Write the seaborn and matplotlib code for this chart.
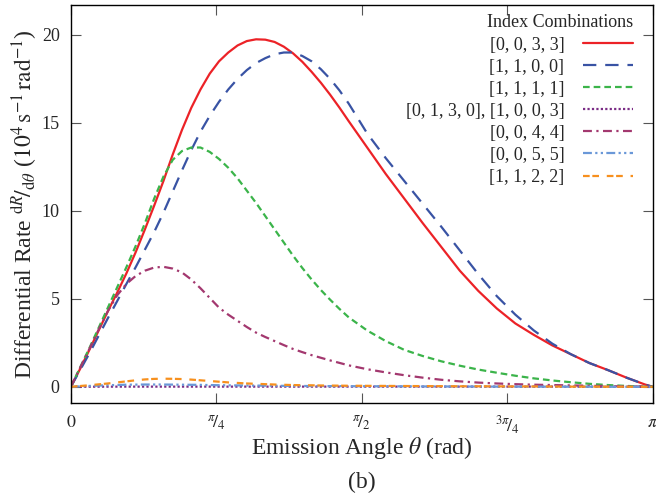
import numpy as np
import pandas as pd
import matplotlib
matplotlib.use("Agg")
import matplotlib.pyplot as plt
import seaborn as sns

theta = ([0.0, 0.05, 0.1, 0.15, 0.2, 0.25, 0.3, 0.35, 0.4, 0.45, 0.5, 0.55, 0.6, 0.65, 0.7,
          0.75, 0.8, 0.85, 0.9, 0.95, 1.0, 1.05, 1.1, 1.15, 1.2, 1.25, 1.3, 1.35, 1.4, 1.45, 1.5]
         + [1.6, 1.7, 1.8, 1.9, 2.0, 2.1, 2.2, 2.3, 2.4, 2.5, 2.6, 2.7, 2.8, 2.9, 3.0, 3.1, 3.14159])

rate_0033 = ([0.0, 1.02, 2.1, 3.2, 4.3, 5.35, 6.45, 7.65, 8.95, 10.3, 11.7, 13.2, 14.6, 15.85,
              16.9, 17.8, 18.5, 19.0, 19.4, 19.65, 19.75, 19.73, 19.6, 19.33, 18.95, 18.47,
              17.9, 17.28, 16.6, 15.87, 15.1]
             + [13.6, 12.1, 10.7, 9.3, 7.95, 6.6, 5.45, 4.45, 3.6, 2.95, 2.35, 1.85, 1.35,
                0.95, 0.52, 0.13, 0.0])
rate_1100 = ([0.0, 0.95, 1.9, 2.9, 3.9, 4.87, 5.85, 6.8, 7.8, 8.8, 9.9, 11.1, 12.3, 13.45,
              14.5, 15.4, 16.2, 16.9, 17.5, 18.0, 18.4, 18.68, 18.9, 19.0, 19.0, 18.8, 18.5,
              18.05, 17.5, 16.85, 16.1]
             + [14.4, 13.0, 11.7, 10.4, 9.1, 7.75, 6.4, 5.15, 4.1, 3.2, 2.45, 1.85, 1.35,
                0.95, 0.52, 0.13, 0.0])
rate_1111 = ([0.0, 1.1, 2.2, 3.35, 4.5, 5.65, 6.8, 8.0, 9.3, 10.7, 11.95, 12.9, 13.4, 13.6,
              13.6, 13.35, 12.95, 12.45, 11.85, 11.15, 10.45, 9.7, 8.95, 8.2, 7.45, 6.75,
              6.1, 5.5, 4.95, 4.43, 3.95]
             + [3.2, 2.6, 2.1, 1.75, 1.45, 1.2, 0.98, 0.8, 0.63, 0.48, 0.36, 0.26, 0.17,
                0.1, 0.05, 0.01, 0.0])
rate_0130 = ([0.0, 0.003, 0.005, 0.007, 0.008, 0.009, 0.01, 0.01, 0.01, 0.01, 0.01, 0.01,
              0.01, 0.01, 0.01, 0.01, 0.01, 0.01, 0.01, 0.01, 0.01, 0.01, 0.01, 0.01, 0.01,
              0.01, 0.01, 0.01, 0.01, 0.01, 0.01]
             + [0.01, 0.01, 0.01, 0.01, 0.01, 0.01, 0.01, 0.01, 0.01, 0.01, 0.01, 0.008,
                0.006, 0.004, 0.003, 0.002, 0.0])
rate_0044 = ([0.0, 1.08, 2.15, 3.25, 4.3, 5.2, 5.85, 6.3, 6.6, 6.78, 6.82, 6.72, 6.5, 6.1,
              5.6, 5.05, 4.5, 4.1, 3.75, 3.4, 3.08, 2.83, 2.6, 2.37, 2.15, 1.97, 1.8, 1.65,
              1.5, 1.36, 1.22]
             + [1.0, 0.82, 0.66, 0.52, 0.40, 0.31, 0.24, 0.19, 0.15, 0.12, 0.1, 0.08, 0.06,
                0.04, 0.02, 0.01, 0.0])
rate_0055 = ([0.0, 0.025, 0.05, 0.07, 0.09, 0.105, 0.12, 0.125, 0.13, 0.13, 0.13, 0.125,
              0.12, 0.115, 0.11, 0.1, 0.09, 0.085, 0.08, 0.075, 0.07, 0.065, 0.06, 0.055,
              0.05, 0.048, 0.045, 0.042, 0.04, 0.038, 0.035]
             + [0.03, 0.03, 0.025, 0.02, 0.02, 0.015, 0.015, 0.01, 0.01, 0.01, 0.005, 0.005,
                0.005, 0.0, 0.0, 0.0, 0.0])
rate_1122 = ([0.0, 0.045, 0.09, 0.14, 0.19, 0.25, 0.31, 0.37, 0.42, 0.45, 0.46, 0.455, 0.44,
              0.41, 0.37, 0.33, 0.29, 0.25, 0.22, 0.19, 0.17, 0.15, 0.13, 0.115, 0.1, 0.09,
              0.085, 0.075, 0.07, 0.065, 0.06]
             + [0.055, 0.05, 0.045, 0.04, 0.035, 0.03, 0.03, 0.025, 0.02, 0.02, 0.015, 0.01,
                0.01, 0.005, 0.005, 0.0, 0.0])

labels = ["[0, 0, 3, 3]", "[1, 1, 0, 0]", "[1, 1, 1, 1]", "[0, 1, 3, 0], [1, 0, 0, 3]",
          "[0, 0, 4, 4]", "[0, 0, 5, 5]", "[1, 1, 2, 2]"]
series = [rate_0033, rate_1100, rate_1111, rate_0130, rate_0044, rate_0055, rate_1122]
colors = ["#ec2227", "#3953a4", "#3bb44a", "#7b2d86", "#a3386f", "#6a98d8", "#f7901e"]
styles = ["-", (0, (6, 4)), (0, (3, 1.8)), (0, (1, 1)), (0, (4, 2, 1, 2)),
          (0, (4, 1.5, 1, 1.5, 1, 1.5)), (0, (3, 1.2, 3, 3.5))]

xtick_vals = [0, np.pi / 4, np.pi / 2, 3 * np.pi / 4, np.pi]
xtick_labels = [r"$0$", r"$^{\pi}\!/_{4}$", r"$^{\pi}\!/_{2}$", r"$^{3\pi}\!/_{4}$", r"$\pi$"]
ytick_vals = [0, 5, 10, 15, 20]

sns.set_theme(style="white")
plt.rcParams["font.family"] = ["Liberation Serif", "DejaVu Serif"]
plt.rcParams["mathtext.fontset"] = "stix"

fig = plt.figure(figsize=(6.56, 5.0), dpi=100)
ax = fig.add_axes([0.108, 0.194, 0.887, 0.796])

for lab, ys, col, ls in zip(labels, series, colors, styles):
    df = pd.DataFrame({"theta": theta, "rate": ys})
    sns.lineplot(data=df, x="theta", y="rate", ax=ax, color=col, linestyle=ls,
                 linewidth=1.6, label=lab)

ax.set_xlim(0, np.pi)
ax.set_ylim(-0.92, 21.7)
ax.set_xticks(xtick_vals)
ax.set_xticklabels(xtick_labels)
ax.set_yticks(ytick_vals)
ax.tick_params(direction="in", length=7, width=0.8, color="#555555", labelsize=13,
               top=True, right=True, bottom=True, left=True, pad=8)
for sp in ax.spines.values():
    sp.set_color("black")
    sp.set_linewidth(1.0)

ax.set_xlabel(r"Emission Angle $\theta$ (rad)", fontsize=17, labelpad=-1)
ax.set_ylabel(r"Differential Rate $^{\mathrm{d}R}\!/_{\mathrm{d}\theta}$ ($10^4\,\mathrm{s}^{-1}\,\mathrm{rad}^{-1}$)",
              fontsize=17, labelpad=2)

leg = ax.legend(loc="upper right", frameon=False, fontsize=13, title="Index Combinations",
                title_fontsize=13, markerfirst=False, handlelength=2.8, handletextpad=1.0,
                labelspacing=0.28, borderaxespad=0.3, bbox_to_anchor=(0.988, 1.008),
                alignment="right")

fig.text(0.552, 0.036, "(b)", fontsize=17, ha="center", va="center")

fig.savefig("out.png", dpi=100)
